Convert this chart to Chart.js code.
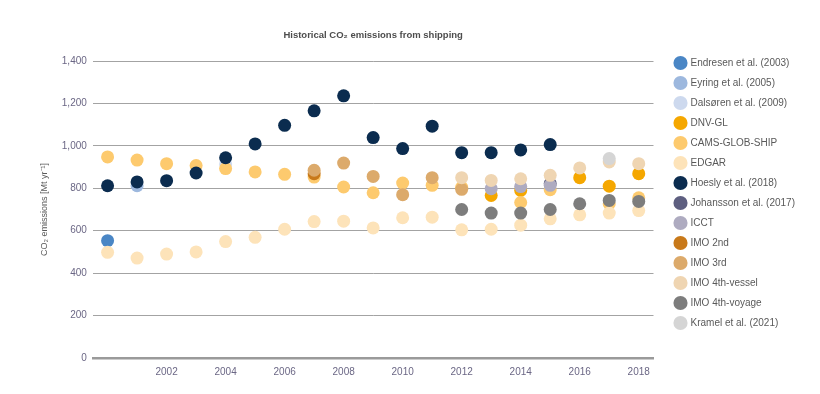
<!DOCTYPE html>
<html>
<head>
<meta charset="utf-8">
<script src="https://cdn.jsdelivr.net/npm/chart.js@4.4.1/dist/chart.umd.min.js"></script>
<style>
  html, body { margin: 0; padding: 0; background: #fff; }
  #wrap { width: 820px; height: 394px; }
</style>
</head>
<body>
<div id="wrap"><canvas id="myChart"></canvas></div>
<script>
// Years on the x axis, one value per year (null = no estimate)
const YEARS = [2000, 2001, 2002, 2003, 2004, 2005, 2006, 2007, 2008, 2009,
               2010, 2011, 2012, 2013, 2014, 2015, 2016, 2017, 2018];
const X_TICKS = [2002, 2004, 2006, 2008, 2010, 2012, 2014, 2016, 2018];
const Y_TICKS = [0, 200, 400, 600, 800, 1000, 1200, 1400];

const ENDRESEN  = [553, null, null, null, null, null, null, null, null, null, null, null, null, null, null, null, null, null, null];
const EYRING    = [null, 812, null, null, null, null, null, null, null, null, null, null, null, null, null, null, null, null, null];
const DALSOREN  = [null, null, null, null, 915, null, null, null, null, null, null, null, null, null, null, null, null, null, null];
const DNV_GL    = [null, null, null, null, null, null, null, null, null, null, null, null, null, 766, 790, null, 850, 810, 869];
const CAMS      = [948, 933, 916, 907, 893, 877, 866, 853, 806, 779, 825, 814, 805, null, 733, 793, null, 727, 755];
const EDGAR     = [498, 471, 490, 500, 549, 569, 607, 643, 645, 613, 661, 664, 604, 607, 626, 656, 675, 683, 695];
const HOESLY    = [812, 830, 836, 872, 944, 1009, 1097, 1165, 1236, 1039, 987, 1093, 968, 968, 981, 1006, null, null, null];
const JOHANSSON = [null, null, null, null, null, null, null, null, null, null, null, null, null, null, null, 822, null, null, null];
const ICCT      = [null, null, null, null, null, null, null, null, null, null, null, null, null, 798, 808, 814, null, null, null];
const IMO_2ND   = [null, null, null, null, null, null, null, 869, null, null, null, null, null, null, null, null, null, null, null];
const IMO_3RD   = [null, null, null, null, null, null, null, 885, 919, 856, 770, 850, 795, null, null, null, null, null, null];
const IMO_4_VES = [null, null, null, null, null, null, null, null, null, null, null, null, 850, 837, 845, 861, 896, 924, 916];
const IMO_4_VOY = [null, null, null, null, null, null, null, null, null, null, null, null, 700, 683, 683, 700, 727, 743, 738];
const KRAMEL    = [null, null, null, null, null, null, null, null, null, null, null, null, null, null, null, null, null, 940, null];

const SERIES = [
  ['Endresen et al. (2003)', ENDRESEN, '#4a86c5'],
  ['Eyring et al. (2005)', EYRING, '#9db8de'],
  ['Dalsøren et al. (2009)', DALSOREN, '#cdd9ee'],
  ['DNV-GL', DNV_GL, '#f5a700'],
  ['CAMS-GLOB-SHIP', CAMS, '#fdca6e'],
  ['EDGAR', EDGAR, '#fde3b9'],
  ['Hoesly et al. (2018)', HOESLY, '#0b2c4f'],
  ['Johansson et al. (2017)', JOHANSSON, '#5e5f80'],
  ['ICCT', ICCT, '#aeabc0'],
  ['IMO 2nd', IMO_2ND, '#c8791a'],
  ['IMO 3rd', IMO_3RD, '#dcaa6b'],
  ['IMO 4th-vessel', IMO_4_VES, '#efd5b2'],
  ['IMO 4th-voyage', IMO_4_VOY, '#7d7d7d'],
  ['Kramel et al. (2021)', KRAMEL, '#d5d5d5']
];

const FONT = '"Liberation Sans", Arial, sans-serif';
const TICK_COLOR = '#6b6785';

// later entries sit on top, as in the source figure
const datasets = SERIES.map(([label, values, color], i) => ({
  label: label,
  data: YEARS.map((yr, k) => ({ x: yr, y: values[k] })).filter(p => p.y !== null),
  backgroundColor: color,
  borderWidth: 0,
  pointRadius: 6.5,
  pointHoverRadius: 6.5,
  order: SERIES.length - i
}));

// title centred over the plot area, legend nudged off the plot
const layoutTweaks = {
  id: 'layoutTweaks',
  afterLayout(chart) {
    const lg = chart.legend;
    lg.left = chart.chartArea.right + 12;
    lg.right = lg.left + lg.width;
    lg.top = 48;
  },
  afterDraw(chart) {
    const ctx = chart.ctx;
    const a = chart.chartArea;
    ctx.save();
    ctx.font = 'bold 9.5px ' + FONT;
    ctx.fillStyle = '#4d4d4d';
    ctx.textAlign = 'center';
    ctx.textBaseline = 'middle';
    ctx.fillText('Historical CO\u2082 emissions from shipping', (a.left + a.right) / 2, 35);
    ctx.restore();
  }
};

new Chart(document.getElementById('myChart'), {
  type: 'scatter',
  data: { datasets: datasets },
  plugins: [layoutTweaks],
  options: {
    responsive: true,
    maintainAspectRatio: false,
    animation: false,
    layout: { padding: { top: 61, left: 39, right: 27, bottom: 8 } },
    plugins: {
      tooltip: { enabled: false },
      legend: {
        position: 'right',
        align: 'start',
        labels: {
          usePointStyle: true,
          pointStyle: 'circle',
          boxWidth: 16,
          boxHeight: 10,
          padding: 10,
          color: '#595959',
          font: { family: FONT, size: 10 },
          sort: (a, b) => a.datasetIndex - b.datasetIndex
        }
      }
    },
    scales: {
      x: {
        type: 'linear',
        min: 1999.5,
        max: 2018.5,
        afterBuildTicks: s => { s.ticks = X_TICKS.map(v => ({ value: v })); },
        grid: { display: false, drawTicks: false },
        border: { display: true, color: '#9a9a9a', width: 2.5 },
        ticks: {
          padding: 8,
          color: TICK_COLOR,
          font: { family: FONT, size: 10 },
          callback: v => String(v)
        }
      },
      y: {
        min: 0,
        max: 1400,
        afterBuildTicks: s => { s.ticks = Y_TICKS.map(v => ({ value: v })); },
        grid: { color: '#a3a3a3', lineWidth: 1, drawTicks: false },
        border: { display: false },
        ticks: {
          padding: 6,
          color: TICK_COLOR,
          font: { family: FONT, size: 10 },
          callback: v => v.toLocaleString('en-US')
        },
        title: {
          display: true,
          text: 'CO\u2082 emissions [Mt yr\u207B\u00B9]',
          color: '#5a5a5a',
          font: { family: FONT, size: 9 },
          padding: { top: 0, bottom: 6 }
        }
      }
    }
  }
});
</script>
</body>
</html>
